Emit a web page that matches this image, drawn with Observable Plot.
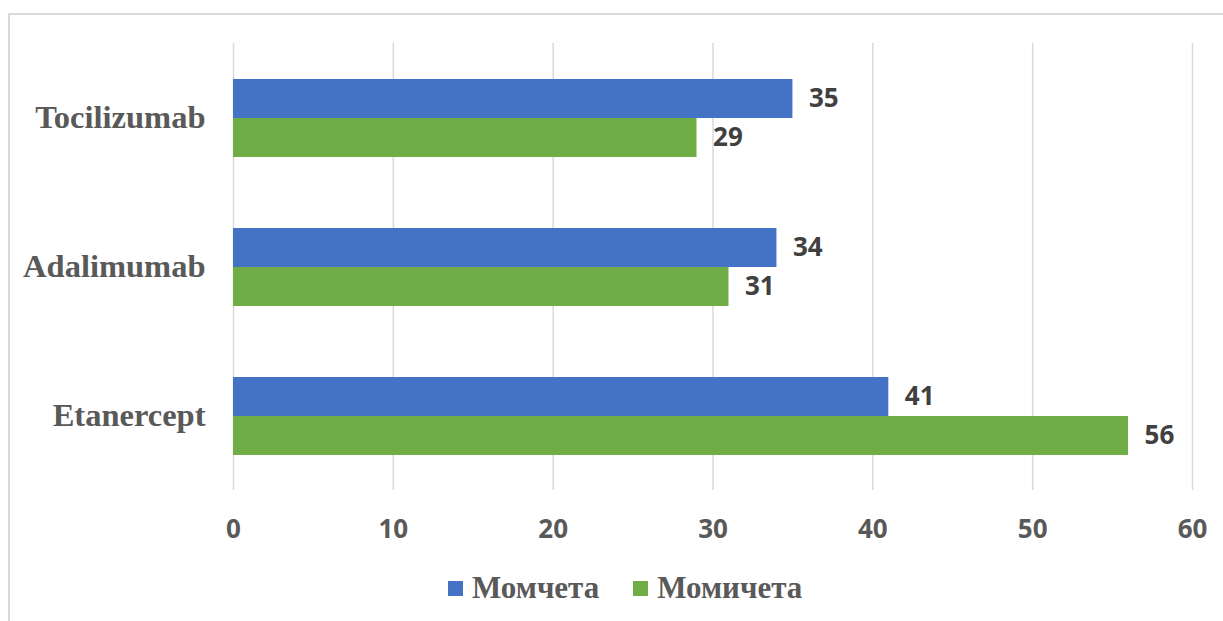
<!DOCTYPE html>
<html>
<head>
<meta charset="utf-8">
<script src="https://cdn.jsdelivr.net/npm/d3@7"></script>
<script src="https://cdn.jsdelivr.net/npm/@observablehq/plot@0.6"></script>
<style>
  html, body { margin: 0; padding: 0; background: #fff; }
  #wrap { position: relative; width: 1223px; height: 621px; overflow: hidden; }
  #frame { position: absolute; left: 8px; top: 13px; width: 1300px; height: 700px;
           border-top: 2px solid #d9d9d9; border-left: 2px solid #d9d9d9; }
  #chart { position: absolute; left: 0; top: 0; }
  #legend { position: absolute; left: 448px; top: 570px; display: flex; align-items: center;
            font-family: "Liberation Serif", "Times New Roman", serif; font-weight: bold;
            font-size: 31px; color: #595959; }
  .item { display: flex; align-items: center; margin-right: 34px; }
  .swatch { width: 15px; height: 15px; margin-right: 9px; }
</style>
</head>
<body>
<div id="wrap">
  <div id="frame"></div>
  <div id="chart"></div>
  <div id="legend"></div>
</div>
<script>
// Drugs, top to bottom
const categories = ["Tocilizumab", "Adalimumab", "Etanercept"];
// Series names (boys, girls)
const series = ["Момчета", "Момичета"];
const boys = [35, 34, 41];
const girls = [29, 31, 56];
const xTicks = [0, 10, 20, 30, 40, 50, 60];
const colors = ["#4472c4", "#70ad47"];

const rows = categories.flatMap((c, i) => [
  {category: c, series: series[0], value: boys[i]},
  {category: c, series: series[1], value: girls[i]}
]);

const chart = Plot.plot({
  width: 1223,
  height: 560,
  marginTop: 43,
  marginBottom: 70,
  marginLeft: 233,
  marginRight: 31,
  style: {fontFamily: "'Open Sans', sans-serif", background: "transparent"},
  x: {domain: [0, 60], label: null},
  fy: {domain: categories, padding: 0, label: null},
  y: {domain: series, paddingInner: 0, paddingOuter: 0.91, axis: null},
  color: {domain: series, range: colors},
  marks: [
    Plot.gridX(xTicks, {stroke: "#d9d9d9", strokeOpacity: 1, strokeWidth: 1.5}),
    Plot.barX(rows, {fy: "category", y: "series", x: "value", fill: "series"}),
    Plot.text(rows, {
      fy: "category", y: "series", x: "value", text: d => String(d.value),
      textAnchor: "start", dx: 16, fontSize: 26, fontWeight: "bold", fill: "#404040"
    }),
    Plot.axisX(xTicks, {
      tickSize: 0, tickPadding: 29, tickFormat: d => String(d), label: null,
      fontSize: 26, fontWeight: "bold", color: "#595959"
    }),
    Plot.axisFy({
      anchor: "left", tickSize: 0, tickPadding: 28, label: null,
      fontSize: 32.5, fontWeight: "bold", color: "#595959",
      fontFamily: "'Liberation Serif', 'Times New Roman', serif"
    })
  ]
});
document.getElementById("chart").appendChild(chart);

// Legend below the chart
const legend = document.getElementById("legend");
series.forEach((s, i) => {
  const item = document.createElement("div");
  item.className = "item";
  const sw = document.createElement("span");
  sw.className = "swatch";
  sw.style.background = colors[i];
  const label = document.createElement("span");
  label.textContent = s;
  item.appendChild(sw);
  item.appendChild(label);
  legend.appendChild(item);
});
</script>
</body>
</html>
